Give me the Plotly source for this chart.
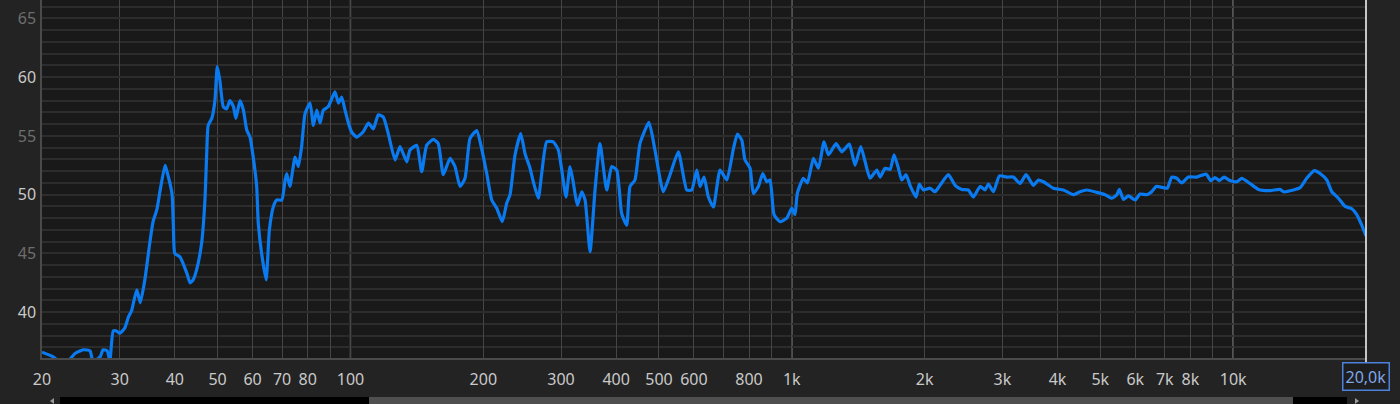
import numpy as np
import plotly.graph_objects as go

# ---------------- data ----------------
freq_hz = [
    20, 21.2, 22.4, 23.8, 24.8, 25.7, 26.1, 27.1, 27.5, 28.1, 28.5, 29.0, 29.5, 30.0,
    30.8, 31.4, 31.9, 32.8, 33.4, 34.2, 35.1, 35.7, 36.4, 37.0, 38.0, 38.3, 39.4, 39.7,
    40.0, 41.1, 42.6, 43.3, 44.0, 44.8, 46.0, 46.8, 47.2, 47.6, 48.5, 49.3, 49.9, 50.6,
    51.5, 52.4, 53.3, 54.3, 55.0, 56.2, 57.2, 58.2, 59.2, 60.2, 61.3, 61.8, 62.9, 64.4,
    65.5, 66.9, 68.1, 69.9, 71.1, 71.7, 72.9, 74.9, 76.2, 77.5, 78.9, 81.0, 82.4, 83.9,
    85.3, 86.8, 89.1, 92.2, 93.9, 95.5, 97.2, 98.9, 100.6, 103.3, 106.9, 109.8, 112.7,
    115.6, 118.7, 121.8, 126.2, 129.5, 134.1, 136.4, 141.3, 145.0, 148.8, 154.0, 158.1,
    162.3, 168.1, 172.5, 177.1, 181.8, 186.6, 193.2, 198.3, 203.6, 209.0, 214.5, 220.8,
    226.0, 229.9, 236.0, 243.1, 248.6, 255.2, 259.6, 266.5, 271.2, 278.4, 288.2, 295.8,
    301.1, 307.9, 314.4, 319.9, 326.6, 334.2, 340.0, 349.0, 358.2, 367.6, 380.7, 390.7,
    401.1, 411.6, 422.5, 429.9, 441.2, 452.9, 474.6, 489.7, 511.4, 529.8, 553.3, 578.1,
    593.3, 609.0, 619.6, 632.6, 647.0, 664.2, 687.8, 712.4, 737.3, 752.8, 770.2, 783.4,
    804.2, 818.2, 839.8, 859.3, 877.4, 892.6, 911.4, 940.4, 974, 999.8, 1017, 1029,
    1062, 1085, 1119, 1149, 1183, 1210, 1232, 1260, 1298, 1350, 1391, 1433, 1466, 1504,
    1558, 1585, 1627, 1670, 1705, 1744, 1775, 1815, 1853, 1912, 1945, 1986, 2057, 2111,
    2167, 2263, 2344, 2427, 2512, 2579, 2671, 2741, 2789, 2863, 2954, 3070, 3177, 3290,
    3395, 3527, 3620, 3715, 3914, 4124, 4346, 4500, 4660, 4910, 5128, 5310, 5450, 5524,
    5640, 5790, 5996, 6154, 6372, 6540, 6688, 6948, 7094, 7260, 7452, 7648, 7916, 8270,
    8682, 8898, 9098, 9306, 9536, 9840, 10190, 10460, 10920, 11410, 12120, 12770, 13000,
    13690, 14180, 14680, 15280, 15740, 16300, 16730, 17320, 17930, 18570, 19060, 19560,
    20000,
]
level_db = [
    36.6, 36.2, 35.5, 36.5, 36.8, 36.7, 35.8, 36.2, 36.8, 36.7, 35.9, 38.4, 38.4, 38.2,
    38.65, 39.6, 40.1, 41.9, 40.8, 42.75, 45.9, 47.7, 48.7, 50.25, 52.5, 52.1, 50.1, 47.3,
    45.0, 44.7, 43.3, 42.5, 42.75, 43.6, 45.9, 49.55, 53.2, 55.9, 56.5, 58.0, 60.9, 59.7,
    57.5, 57.3, 58.0, 57.5, 56.5, 58.0, 57.2, 55.5, 54.9, 53.2, 50.7, 47.6, 45.0, 42.75,
    47.0, 49.0, 49.55, 49.55, 51.25, 51.8, 50.7, 53.2, 52.4, 54.1, 56.9, 57.8, 55.9, 57.2,
    56.1, 57.2, 57.5, 58.75, 57.8, 58.3, 57.2, 56.1, 55.35, 54.9, 55.35, 56.1, 55.6,
    56.8, 56.6, 55.2, 52.95, 54.1, 52.8, 53.8, 54.2, 51.95, 54.2, 54.7, 54.35,
    51.7, 53.1, 52.4, 50.7, 51.4, 54.8, 55.45, 53.9, 51.8, 49.55, 48.85, 47.7,
    49.3, 50.0, 53.4, 55.2, 53.5, 52.25, 51.1, 49.7, 51.8, 54.5, 54.5, 53.8,
    52.1, 49.8, 52.4, 51.0, 49.1, 50.25, 49.55, 45.15, 50.4, 54.35, 50.4, 52.4,
    52.1, 48.4, 47.4, 50.7, 51.25, 54.35, 56.15, 53.8, 50.25, 51.7, 53.65, 50.4,
    50.4, 52.1, 50.7, 51.5, 49.8, 48.95, 52.1, 51.25, 53.9, 55.15, 54.65, 52.95,
    52.25, 50.1, 50.7, 51.8, 51.1, 51.25, 48.3, 47.7, 48.0, 48.85, 48.3, 50.1,
    51.4, 51.0, 53.1, 52.25, 54.5, 53.4, 53.8, 54.35, 53.65, 54.3, 52.5, 54.1, 52.8, 51.4,
    52.1, 51.5, 52.25, 52.15, 53.4, 52.25, 51.25, 51.7, 50.8, 49.8, 50.9, 50.4, 50.55, 50.25,
    50.8, 51.7, 50.8, 50.45, 50.4, 49.8, 50.7, 50.4, 50.9, 50.25, 51.6, 51.5, 51.5, 50.95,
    51.7, 50.8, 51.25, 51.1, 50.55, 50.4, 50.0, 50.25, 50.4, 50.2, 50.0, 49.7, 50.0, 50.45,
    49.6, 49.9, 49.55, 50.05, 50.0, 50.25, 50.7, 50.6, 50.55, 51.5, 51.4, 51.0, 51.5, 51.5,
    51.75, 51.2, 51.45, 51.2, 51.5, 51.2, 51.1, 51.4, 50.95, 50.45, 50.35, 50.45, 50.25,
    50.4, 50.6, 51.4, 52.05, 51.8, 51.25, 50.25, 49.7, 49.0, 48.8, 48.3, 47.4,
    46.5,
]

# axis configuration
x_range_hz = [20, 20000]
y_range_db = [36.1, 66.57]
x_grid_hz = [20, 30, 40, 50, 60, 70, 80, 90, 100, 200, 300, 400, 500, 600, 700, 800, 900,
             1000, 2000, 3000, 4000, 5000, 6000, 7000, 8000, 9000, 10000, 20000]
x_tick_labels = ["20", "30", "40", "50", "60", "70", "80", "", "100", "200", "300", "400",
                 "500", "600", "", "800", "", "1k", "2k", "3k", "4k", "5k", "6k", "7k",
                 "8k", "", "10k", ""]
decade_lines_hz = [100, 1000, 10000]
y_tick_vals = [40, 45, 50, 55, 60, 65]
y_major_lines = [40, 50, 60]
end_label = "20,0k"

# ---------------- styling ----------------
W, H = 1400, 404
PL, PR, PT, PB = 42, 1366, 0, 358  # plot area in pixels
BG_OUT = "#232323"
BG_PLOT = "#191919"
LINE_BLUE = "#0a7af0"
FONT = "Noto Sans"


def px_x(p):
    return (p - PL) / (PR - PL)


def px_y(p):
    return (PB - p) / (PB - PT)


bright = "#c9c9c9"
dim = "#6e6e6e"
y_ticktext = [
    f"<span style='color:{bright if v in y_major_lines else dim}'>{v}</span>" for v in y_tick_vals
]

fig = go.Figure()
fig.add_trace(go.Scatter(
    x=freq_hz, y=level_db, mode="lines",
    line=dict(color=LINE_BLUE, width=3.2, shape="spline", smoothing=0.5),
    hoverinfo="skip", showlegend=False,
))

shapes = []
for v in y_major_lines:
    shapes.append(dict(type="line", xref="paper", yref="y", x0=0, x1=1, y0=v, y1=v,
                       line=dict(color="#4c4c4c", width=1.6), layer="between"))
for v in decade_lines_hz:
    shapes.append(dict(type="line", xref="x", yref="paper", x0=v, x1=v, y0=0, y1=1,
                       line=dict(color="#8f8f8f", width=1.3), layer="between"))
shapes.append(dict(type="line", xref="paper", yref="paper", x0=1, x1=1, y0=px_y(362), y1=1,
                   line=dict(color="#f0f0f0", width=1.6), layer="above"))
# scrollbar at the bottom
shapes.append(dict(type="rect", xref="paper", yref="paper", x0=px_x(60), x1=px_x(369),
                   y0=px_y(405), y1=px_y(397), fillcolor="#000000", line=dict(width=0)))
shapes.append(dict(type="rect", xref="paper", yref="paper", x0=px_x(369), x1=px_x(1293),
                   y0=px_y(405), y1=px_y(397), fillcolor="#4f4f4f", line=dict(width=0)))
shapes.append(dict(type="rect", xref="paper", yref="paper", x0=px_x(1293), x1=px_x(1347),
                   y0=px_y(405), y1=px_y(397), fillcolor="#000000", line=dict(width=0)))
shapes.append(dict(type="path", xref="paper", yref="paper",
                   path=f"M {px_x(50)},{px_y(401)} L {px_x(54)},{px_y(398)} L {px_x(54)},{px_y(404)} Z",
                   fillcolor="#9a9a9a", line=dict(width=0)))
shapes.append(dict(type="path", xref="paper", yref="paper",
                   path=f"M {px_x(1359)},{px_y(401)} L {px_x(1355)},{px_y(398)} L {px_x(1355)},{px_y(404)} Z",
                   fillcolor="#9a9a9a", line=dict(width=0)))

fig.update_layout(
    width=W, height=H,
    margin=dict(l=PL, r=W - PR, t=PT, b=H - PB, pad=0, autoexpand=False),
    paper_bgcolor=BG_OUT, plot_bgcolor=BG_PLOT,
    font=dict(family=FONT, size=16, color=bright),
    showlegend=False,
    shapes=shapes,
    xaxis=dict(
        type="log", range=[np.log10(x_range_hz[0]), np.log10(x_range_hz[1])],
        tickmode="array", tickvals=x_grid_hz, ticktext=x_tick_labels,
        showgrid=True, gridcolor="#454545", gridwidth=1.3,
        showline=True, linecolor="#4a4a4a", linewidth=1.5,
        ticks="outside", ticklen=6, tickcolor=BG_OUT,
        tickfont=dict(family=FONT, size=16, color=bright),
        zeroline=False, fixedrange=True, automargin=False,
    ),
    yaxis=dict(
        range=y_range_db, tickmode="array", tickvals=y_tick_vals, ticktext=y_ticktext,
        showgrid=True, gridcolor="#2c2c2c", gridwidth=1.5,
        minor=dict(dtick=1, tick0=0, showgrid=True, gridcolor="#2c2c2c", gridwidth=1.5),
        showline=True, linecolor="#4a4a4a", linewidth=1.5,
        ticks="outside", ticklen=1, tickcolor=BG_OUT,
        tickfont=dict(family=FONT, size=16, color=bright),
        zeroline=False, fixedrange=True, automargin=False,
    ),
    annotations=[dict(
        x=np.log10(x_range_hz[1]), y=px_y(376), xref="x", yref="paper",
        text=end_label, showarrow=False, xanchor="center", yanchor="middle",
        font=dict(family=FONT, size=16, color="#7fa6e8"),
        bordercolor="#4d82dc", borderwidth=1.5, borderpad=2, bgcolor="#1d1d1d",
    )],
)

fig.write_html(
    "out.html",
    config={"displayModeBar": False},
    post_script="document.body.style.margin='0';document.body.style.overflow='hidden';"
                "document.body.style.background='" + BG_OUT + "';",
)
